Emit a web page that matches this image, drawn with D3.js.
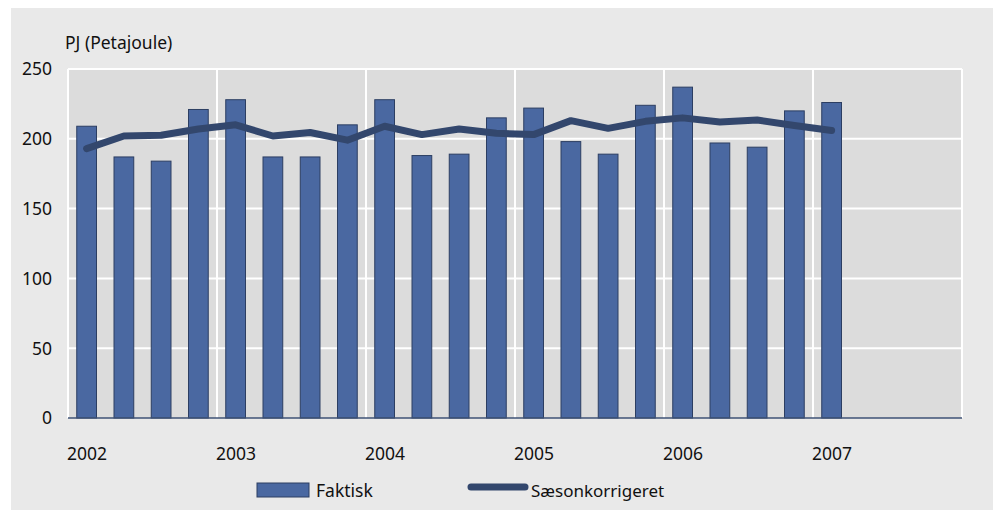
<!DOCTYPE html>
<html lang="da">
<head>
<meta charset="UTF-8">
<title>PJ (Petajoule)</title>
<script src="https://d3js.org/d3.v7.min.js"></script>
<style>
  body { margin: 0; background: #fff; }
  text { font-family: "Noto Sans", sans-serif; fill: #111; }
</style>
</head>
<body>
<svg width="995" height="510"></svg>
<script>
// quarterly data 2002 Q1 - 2007 Q1
const years = ["2002", "2003", "2004", "2005", "2006", "2007"];
const faktisk = [209, 187, 184, 221, 228, 187, 187, 210, 228, 188, 189, 215, 222, 198, 189, 224, 237, 197, 194, 220, 226];
const saeson = [193, 202, 202.5, 207, 210, 202, 204.5, 199, 209, 203, 207, 204, 203, 213, 207.5, 212.5, 215, 212, 213.5, 209.5, 206];
const yTicks = [0, 50, 100, 150, 200, 250];

const svg = d3.select("svg");
const pLeft = 68, pRight = 962, pTop = 69, pBottom = 418;

// background panels
svg.append("rect").attr("x", 11).attr("y", 8).attr("width", 982).attr("height", 502).attr("fill", "#e9e9e9");
svg.append("rect").attr("x", pLeft).attr("y", pTop).attr("width", pRight - pLeft).attr("height", pBottom - pTop).attr("fill", "#dcdcdc");

// x: one slot per quarter, 4 per year, 6 years
const nSlots = years.length * 4;
const x = d3.scaleBand().domain(d3.range(nSlots)).range([pLeft, pRight]).paddingInner(0.47).paddingOuter(0.235);
const xYear = d3.scaleLinear().domain([0, years.length]).range([pLeft, pRight]);
const y = d3.scaleLinear().domain([0, 250]).range([pBottom, pTop]);

// gridlines
svg.append("g").selectAll("line").data(yTicks.filter(d => d > 0)).join("line")
  .attr("x1", pLeft).attr("x2", pRight)
  .attr("y1", d => y(d)).attr("y2", d => y(d))
  .attr("stroke", "#fff").attr("stroke-width", 2);
svg.append("g").selectAll("line").data(d3.range(years.length + 1)).join("line")
  .attr("x1", d => xYear(d)).attr("x2", d => xYear(d))
  .attr("y1", pTop).attr("y2", pBottom)
  .attr("stroke", "#fff").attr("stroke-width", 2);

// bars
svg.append("g").selectAll("rect").data(faktisk).join("rect")
  .attr("x", (d, i) => x(i))
  .attr("width", x.bandwidth())
  .attr("y", d => y(d))
  .attr("height", d => y(0) - y(d))
  .attr("fill", "#4a68a1")
  .attr("stroke", "#2c3e62")
  .attr("stroke-width", 1);

// baseline
svg.append("line").attr("x1", pLeft).attr("x2", pRight).attr("y1", pBottom).attr("y2", pBottom)
  .attr("stroke", "#3e5276").attr("stroke-width", 1.5);

// seasonally adjusted line
const line = d3.line().x((d, i) => x(i) + x.bandwidth() / 2).y(d => y(d));
svg.append("path").datum(saeson)
  .attr("d", line)
  .attr("fill", "none")
  .attr("stroke", "#33476d")
  .attr("stroke-width", 7)
  .attr("stroke-linejoin", "round")
  .attr("stroke-linecap", "round");

// y labels
svg.append("g").selectAll("text").data(yTicks).join("text")
  .attr("x", 52).attr("y", d => y(d)).attr("dy", "0.36em")
  .attr("text-anchor", "end").attr("font-size", 17.5)
  .text(d => d);

// year labels
svg.append("g").selectAll("text").data(years).join("text")
  .attr("x", (d, i) => xYear(i) - 1).attr("y", 460)
  .attr("font-size", 17.5)
  .text(d => d);

// unit title
svg.append("text").attr("x", 65).attr("y", 49).attr("font-size", 17.5).text("PJ (Petajoule)");

// legend
svg.append("rect").attr("x", 257).attr("y", 483).attr("width", 52).attr("height", 14)
  .attr("fill", "#4a68a1").attr("stroke", "#2c3e62");
svg.append("text").attr("x", 316).attr("y", 497).attr("font-size", 17.5).text("Faktisk");
svg.append("line").attr("x1", 471).attr("x2", 525).attr("y1", 487).attr("y2", 487)
  .attr("stroke", "#33476d").attr("stroke-width", 7).attr("stroke-linecap", "round");
svg.append("text").attr("x", 531).attr("y", 497).attr("font-size", 17).text("Sæsonkorrigeret");
</script>
</body>
</html>
